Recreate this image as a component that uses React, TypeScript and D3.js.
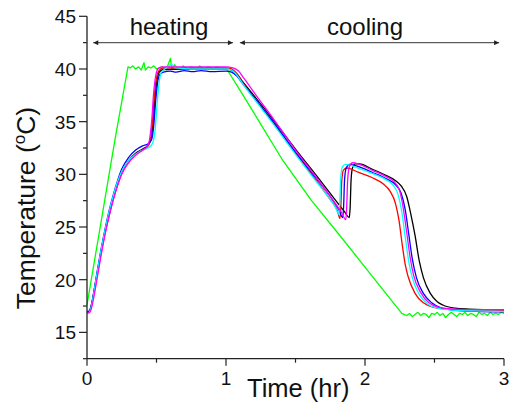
import * as d3 from 'd3';

// time (hr) vs temperature (°C)
const greenData: [number, number][] = [
  [0, 17.6], [0.1, 25.4], [0.2, 33.2], [0.295, 40.2],
  [0.31, 40.1], [0.33, 40.3], [0.35, 40.0], [0.37, 40.2], [0.39, 39.9], [0.41, 40.6], [0.42, 39.9],
  [0.44, 40.2], [0.46, 40.1], [0.48, 40.3], [0.5, 40.0], [0.52, 40.1], [0.54, 40.2], [0.56, 40.0],
  [0.58, 40.3], [0.6, 41.0], [0.61, 40.0], [0.63, 40.4], [0.65, 40.1], [0.67, 40.0], [0.69, 40.3],
  [0.71, 40.1], [0.73, 40.0], [0.75, 40.2], [0.77, 40.1], [0.79, 40.0], [0.81, 40.3], [0.83, 40.1],
  [0.85, 40.0], [0.87, 40.2], [0.89, 40.1], [0.91, 40.0], [0.93, 40.2], [0.95, 40.1], [0.97, 40.0],
  [0.99, 40.1],
  [1.01, 39.9], [1.1, 38.0], [1.23, 35.2], [1.4, 31.5], [1.61, 27.6], [1.8, 24.5], [2.0, 21.2],
  [2.15, 18.7], [2.265, 16.8],
  [2.28, 16.7], [2.3, 16.6], [2.32, 16.8], [2.34, 16.5], [2.36, 16.7], [2.38, 16.9], [2.4, 16.6],
  [2.42, 16.8], [2.44, 16.7], [2.46, 16.4], [2.48, 16.8], [2.5, 16.7], [2.52, 16.9], [2.54, 16.6],
  [2.56, 16.8], [2.58, 16.4], [2.6, 16.7], [2.62, 16.9], [2.64, 16.7], [2.66, 16.5], [2.68, 16.8],
  [2.7, 16.7], [2.72, 16.9], [2.74, 16.6], [2.76, 16.8], [2.78, 16.7], [2.8, 16.5], [2.82, 16.9],
  [2.84, 16.7], [2.86, 16.8], [2.88, 16.6], [2.9, 16.9], [2.92, 16.7], [2.94, 16.8], [2.96, 16.7],
  [2.98, 16.9], [3.0, 16.8],
];

const blackData: [number, number][] = [
  [0, 17.0], [0.015, 17.0], [0.03, 17.5], [0.05, 18.9], [0.07, 20.4], [0.1, 22.6], [0.13, 24.6],
  [0.16, 26.3], [0.19, 27.8], [0.22, 29.1], [0.25, 30.2], [0.3, 31.3], [0.35, 32.0], [0.4, 32.4],
  [0.44, 32.8], [0.46, 33.3], [0.475, 34.8], [0.49, 37.4], [0.505, 39.0], [0.52, 39.7], [0.55, 39.95],
  [0.7, 40.0], [0.85, 40.0], [1.0, 40.0], [1.04, 39.9], [1.08, 39.5], [1.12, 38.8], [1.2, 37.5],
  [1.35, 35.0], [1.5, 32.4], [1.65, 29.9], [1.75, 28.2], [1.85, 26.5], [1.887, 25.9], [1.893, 26.8],
  [1.9, 29.5], [1.91, 30.6], [1.93, 31.0], [1.96, 31.0], [2.05, 30.5], [2.15, 29.9], [2.22, 29.4],
  [2.26, 28.9], [2.3, 27.9], [2.33, 26.2], [2.36, 24.2], [2.39, 21.8], [2.42, 20.2], [2.47, 18.7],
  [2.52, 17.9], [2.56, 17.6], [2.65, 17.3], [2.75, 17.2], [3.0, 17.1],
];

const redData: [number, number][] = [
  [0, 16.9], [0.015, 16.95], [0.03, 17.4], [0.05, 18.7], [0.07, 20.2], [0.1, 22.4], [0.13, 24.4],
  [0.16, 26.1], [0.19, 27.7], [0.22, 29.0], [0.25, 30.1], [0.3, 31.2], [0.35, 31.9], [0.4, 32.3],
  [0.44, 32.7], [0.455, 33.2], [0.47, 34.8], [0.485, 37.5], [0.5, 39.2], [0.515, 39.8], [0.55, 40.1],
  [0.7, 40.1], [0.85, 40.1], [1.0, 40.1], [1.04, 40.0], [1.08, 39.5], [1.12, 38.7], [1.2, 37.3],
  [1.35, 34.7], [1.5, 32.0], [1.65, 29.4], [1.75, 27.6], [1.8, 26.6], [1.82, 25.8], [1.826, 26.8],
  [1.833, 29.4], [1.845, 30.4], [1.87, 30.6], [1.95, 30.2], [2.05, 29.7], [2.13, 29.1], [2.18, 28.4],
  [2.22, 27.2], [2.245, 25.6], [2.265, 23.6], [2.29, 21.4], [2.31, 20.3], [2.36, 18.7], [2.42, 17.8],
  [2.49, 17.4], [2.6, 17.2], [2.8, 17.1], [3.0, 17.05],
];

const blueData: [number, number][] = [
  [0, 16.9], [0.015, 17.0], [0.03, 17.5], [0.05, 18.9], [0.07, 20.5], [0.1, 22.8], [0.13, 24.8],
  [0.16, 26.6], [0.19, 28.1], [0.22, 29.4], [0.25, 30.5], [0.3, 31.6], [0.35, 32.3], [0.4, 32.7],
  [0.44, 32.9], [0.465, 33.3], [0.48, 34.6], [0.495, 37.1], [0.51, 38.9], [0.525, 39.5], [0.55, 39.7],
  [0.6, 39.8], [0.64, 39.7], [0.7, 39.85], [0.76, 39.75], [0.82, 39.85], [0.9, 39.75], [1.0, 39.8],
  [1.04, 39.7], [1.08, 39.3], [1.12, 38.6], [1.2, 37.3], [1.35, 34.8], [1.5, 32.1], [1.65, 29.6],
  [1.75, 27.9], [1.81, 26.7], [1.84, 25.9], [1.846, 26.9], [1.853, 29.5], [1.865, 30.6], [1.89, 30.95],
  [1.96, 30.7], [2.05, 30.2], [2.15, 29.6], [2.22, 29.0], [2.26, 28.2], [2.29, 26.6], [2.315, 24.3],
  [2.34, 22.0], [2.37, 20.2], [2.42, 18.7], [2.48, 17.8], [2.55, 17.3], [2.65, 17.1], [2.8, 17.0],
  [3.0, 16.95],
];

const cyanData: [number, number][] = [
  [0, 16.8], [0.015, 16.9], [0.03, 17.4], [0.05, 18.8], [0.07, 20.4], [0.1, 22.7], [0.13, 24.7],
  [0.16, 26.5], [0.19, 28.0], [0.22, 29.3], [0.25, 30.3], [0.3, 31.3], [0.35, 31.9], [0.4, 32.3],
  [0.44, 32.5], [0.47, 32.9], [0.49, 34.2], [0.505, 36.8], [0.52, 38.8], [0.535, 39.7], [0.56, 40.0],
  [0.59, 40.3], [0.61, 40.4], [0.64, 40.1], [0.75, 40.0], [0.9, 40.0], [1.0, 40.0], [1.04, 39.9],
  [1.08, 39.4], [1.12, 38.6], [1.2, 37.2], [1.35, 34.6], [1.5, 31.9], [1.65, 29.3], [1.75, 27.6],
  [1.79, 26.8], [1.812, 26.2], [1.818, 27.2], [1.825, 29.6], [1.837, 30.7], [1.86, 30.95],
  [1.95, 30.6], [2.05, 30.1], [2.15, 29.5], [2.2, 29.0], [2.24, 28.0], [2.265, 26.4], [2.29, 24.0],
  [2.315, 21.7], [2.34, 20.2], [2.39, 18.6], [2.45, 17.7], [2.52, 17.3], [2.65, 17.1], [3.0, 17.0],
];

const magentaData: [number, number][] = [
  [0, 16.9], [0.015, 16.85], [0.03, 17.2], [0.05, 18.4], [0.07, 19.9], [0.1, 22.2], [0.13, 24.3],
  [0.16, 26.1], [0.19, 27.6], [0.22, 28.9], [0.25, 30.0], [0.3, 31.1], [0.35, 31.8], [0.4, 32.3],
  [0.435, 32.7], [0.45, 33.3], [0.465, 35.0], [0.48, 37.8], [0.495, 39.4], [0.51, 40.0], [0.54, 40.2],
  [0.7, 40.2], [0.85, 40.2], [1.0, 40.2], [1.05, 40.1], [1.09, 39.8], [1.13, 39.1], [1.2, 37.8],
  [1.35, 35.1], [1.5, 32.3], [1.65, 29.7], [1.75, 27.9], [1.83, 26.4], [1.862, 25.7], [1.868, 26.8],
  [1.875, 29.4], [1.887, 30.7], [1.91, 31.1], [1.96, 30.95], [2.05, 30.4], [2.15, 29.8], [2.21, 29.3],
  [2.25, 28.4], [2.275, 26.8], [2.3, 24.5], [2.325, 22.1], [2.35, 20.4], [2.4, 18.8], [2.46, 17.8],
  [2.53, 17.4], [2.65, 17.2], [2.8, 17.15], [3.0, 17.15],
];

const series = [
  { name: 'green', color: '#00ff00', data: greenData, smooth: false },
  { name: 'black', color: '#000000', data: blackData, smooth: true },
  { name: 'red', color: '#ff0000', data: redData, smooth: true },
  { name: 'blue', color: '#0000ff', data: blueData, smooth: true },
  { name: 'cyan', color: '#00ffff', data: cyanData, smooth: true },
  { name: 'magenta', color: '#ff00ff', data: magentaData, smooth: true },
];

const xTicks = [0, 1, 2, 3];
const xMinorTicks = [0.5, 1.5, 2.5];
const yTicks = [15, 20, 25, 30, 35, 40, 45];
const yMinorTicks = [12.5, 17.5, 22.5, 27.5, 32.5, 37.5, 42.5];

const phases = [
  { label: 'heating', start: 0.045, end: 1.05, labelAt: 0.59 },
  { label: 'cooling', start: 1.1, end: 2.965, labelAt: 2.0 },
];

const FONT = '"Liberation Sans", Arial, sans-serif';

export default function App() {
  const width = 518;
  const height = 408;
  const x = d3.scaleLinear().domain([0, 3]).range([87, 504]);
  const y = d3.scaleLinear().domain([12.5, 45]).range([358.7, 16.3]);
  const x0 = x(0);
  const yb = y(12.5);

  const lineSmooth = d3.line<[number, number]>().x(d => x(d[0])).y(d => y(d[1])).curve(d3.curveMonotoneX);
  const lineRaw = d3.line<[number, number]>().x(d => x(d[0])).y(d => y(d[1]));

  const arrowY = 42.7;

  return (
    <svg width={width} height={height} style={{ position: 'absolute', left: 0, top: 0, background: '#fff' }}
      fontFamily={FONT}>
      <defs>
        <marker id="ah" viewBox="0 0 10 10" refX="10" refY="5" markerWidth="7" markerHeight="5"
          markerUnits="userSpaceOnUse" orient="auto-start-reverse">
          <path d="M0,0 L10,5 L0,10 z" fill="#222" />
        </marker>
      </defs>

      {/* phase arrows */}
      {phases.map(p => (
        <g key={p.label}>
          <line x1={x(p.start)} x2={x(p.end)} y1={arrowY} y2={arrowY} stroke="#333" strokeWidth={1}
            markerStart="url(#ah)" markerEnd="url(#ah)" />
          <text x={x(p.labelAt)} y={35} textAnchor="middle" fontSize={24} fill="#111">{p.label}</text>
        </g>
      ))}

      {/* curves */}
      {series.map(s => (
        <path key={s.name} d={(s.smooth ? lineSmooth : lineRaw)(s.data) || ''} fill="none"
          stroke={s.color} strokeWidth={1.3} strokeLinejoin="round" />
      ))}

      {/* axes */}
      <line x1={x0} x2={x0} y1={y(45)} y2={yb} stroke="#222" strokeWidth={1.3} />
      <line x1={x0} x2={x(3)} y1={yb} y2={yb} stroke="#222" strokeWidth={1.3} />
      {yTicks.map(t => (
        <g key={'y' + t}>
          <line x1={x0 - 8} x2={x0} y1={y(t)} y2={y(t)} stroke="#222" strokeWidth={1.2} />
          <text x={x0 - 11} y={y(t) + 7} textAnchor="end" fontSize={19} fill="#111">{t}</text>
        </g>
      ))}
      {yMinorTicks.map(t => (
        <line key={'ym' + t} x1={x0 - 4} x2={x0} y1={y(t)} y2={y(t)} stroke="#222" strokeWidth={1.2} />
      ))}
      {xTicks.map(t => (
        <g key={'x' + t}>
          <line x1={x(t)} x2={x(t)} y1={yb} y2={yb + 7} stroke="#222" strokeWidth={1.2} />
          <text x={x(t)} y={385} textAnchor="middle" fontSize={19} fill="#111">{t}</text>
        </g>
      ))}
      {xMinorTicks.map(t => (
        <line key={'xm' + t} x1={x(t)} x2={x(t)} y1={yb} y2={yb + 4} stroke="#222" strokeWidth={1.2} />
      ))}

      {/* axis titles */}
      <text x={247} y={397} fontSize={25.5} fill="#111">Time (hr)</text>
      <text transform="translate(35,208) rotate(-90)" textAnchor="middle" fontSize={26.5} fill="#111">
        Temperature (<tspan fontSize={17} dy={-10}>o</tspan><tspan dy={10}>C)</tspan>
      </text>
    </svg>
  );
}
